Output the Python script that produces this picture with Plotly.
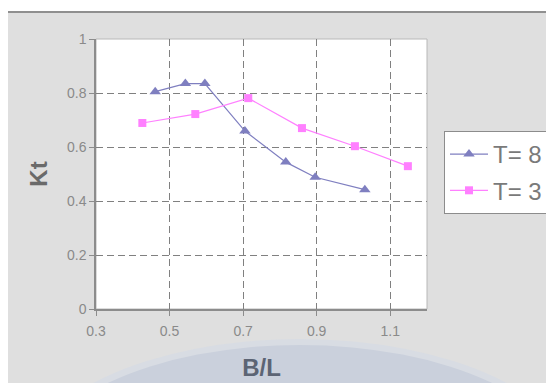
import plotly.graph_objects as go

# Data
t8_x = [0.461, 0.543, 0.596, 0.705, 0.816, 0.896, 1.031]
t8_y = [0.805, 0.835, 0.835, 0.659, 0.544, 0.488, 0.442]
t3_x = [0.426, 0.570, 0.714, 0.860, 1.004, 1.148]
t3_y = [0.689, 0.722, 0.781, 0.670, 0.603, 0.529]
series_names = ["T= 8", "T= 3"]
x_tick_vals = [0.3, 0.5, 0.7, 0.9, 1.1]
y_tick_vals = [0, 0.2, 0.4, 0.6, 0.8, 1]

FONT = "Liberation Sans, Arial, Helvetica, sans-serif"
OFF = 8  # page body margin
W, H = 554 - OFF, 383 - OFF
ML, MR, MT, MB = 96 - OFF, 127, 39 - OFF, 74
PW, PH = W - ML - MR, H - MT - MB


def px_x(p):
    return (p - OFF - ML) / PW


def px_y(p):
    return (H - MB - (p - OFF)) / PH


fig = go.Figure()
fig.add_trace(go.Scatter(
    x=t8_x, y=t8_y, name=series_names[0], mode="lines+markers",
    legendgroup="a",
    line=dict(color="#7f7fc0", width=1.2),
    marker=dict(symbol="triangle-up", size=10, color="#7f7fc0"),
))
fig.add_trace(go.Scatter(
    x=t3_x, y=t3_y, name=series_names[1], mode="lines+markers",
    legendgroup="b",
    line=dict(color="#ff80ff", width=1.2),
    marker=dict(symbol="square", size=8, color="#ff80ff"),
))

shapes = [
    # outer chart area
    dict(type="rect", xref="paper", yref="paper", layer="below",
         x0=px_x(6), x1=px_x(620), y0=px_y(440), y1=px_y(12),
         fillcolor="#dfdfdf", line=dict(color="#8f8f8f", width=2)),
    # faint background arc
    dict(type="circle", xref="paper", yref="paper", layer="below",
         x0=px_x(24), x1=px_x(576), y0=px_y(600), y1=px_y(339),
         fillcolor="#d8dce3", line=dict(width=0)),
    dict(type="circle", xref="paper", yref="paper", layer="below",
         x0=px_x(32), x1=px_x(568), y0=px_y(596), y1=px_y(345),
         fillcolor="#cad0dc", line=dict(width=0)),
    # plot area
    dict(type="rect", xref="paper", yref="paper", layer="below",
         x0=0, x1=1, y0=0, y1=1,
         fillcolor="white", line=dict(color="#b8b8b8", width=1)),
]

axis_common = dict(
    showline=True, linecolor="#8c8c8c", linewidth=1.5,
    ticks="outside", ticklen=5, tickcolor="#8c8c8c", tickwidth=1,
    showgrid=True, gridcolor="#808080", gridwidth=1, griddash="7px,4px",
    zeroline=False, automargin=False,
    tickfont=dict(family=FONT, size=14, color="#8a8a8a"),
)

fig.update_layout(
    width=W, height=H,
    margin=dict(l=ML, r=MR, t=MT, b=MB, autoexpand=False),
    paper_bgcolor="white",
    plot_bgcolor="rgba(0,0,0,0)",
    shapes=shapes,
    showlegend=True,
    legend=dict(
        x=px_x(444), y=px_y(131), xanchor="left", yanchor="top",
        bgcolor="white", bordercolor="#8c8c8c", borderwidth=1,
        itemwidth=38, tracegroupgap=2, traceorder="grouped",
        font=dict(family=FONT, size=24, color="#7a7a7a"),
    ),
    xaxis=dict(
        range=[0.3, 1.2], tickvals=x_tick_vals,
        ticktext=[f"{v:g}" for v in x_tick_vals],
        ticklabelstandoff=3,
        title=dict(text="<b>B/L</b>", standoff=22,
                   font=dict(family=FONT, size=24, color="#5c6474")),
        **axis_common,
    ),
    yaxis=dict(
        range=[0, 1], tickvals=y_tick_vals,
        ticktext=[f"{v:g}" for v in y_tick_vals],
        title=dict(text="<b>Kt</b>", standoff=13,
                   font=dict(family=FONT, size=24, color="#6a6a6a")),
        **axis_common,
    ),
)

fig.write_html("out.html")
